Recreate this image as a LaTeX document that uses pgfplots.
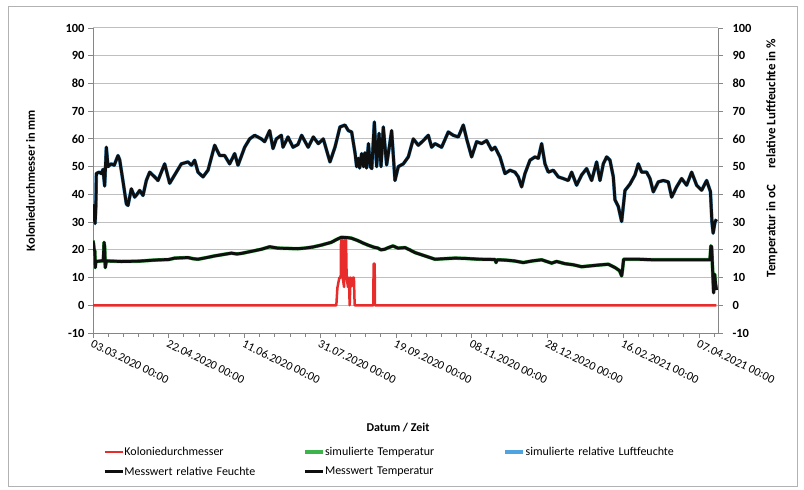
\documentclass[border=0pt]{standalone}
\usepackage{pgfplots}
\pgfplotsset{compat=1.18}
\usepackage{pgfplotstable}
\usepackage{fontspec}
\setmainfont{Carlito}

\definecolor{gridc}{RGB}{191,191,191}
\definecolor{axc}{RGB}{134,134,134}
\definecolor{redc}{RGB}{232,44,44}
\definecolor{greenc}{RGB}{60,180,75}
\definecolor{bluec}{RGB}{79,163,222}
\definecolor{blk}{RGB}{15,15,15}

% day offset from 03.03.2020, value
\pgfplotstableread{
d v
0 0
160.6 0
161.3 6.3
162.6 10
163.5 10
163.7 23.7
164.4 23.7
164.8 10
165.7 6.6
166.3 23.7
167 23.7
167.4 10
168.3 6.6
168.9 10
169.4 0
170 10
170.9 7
171.6 10
172.2 10
172.7 0
185 0
185.2 15
185.9 15
186.1 0
411.5 0
}\kolonie

\pgfplotstableread{
d v
0 23.3
0.4 22
0.7 20.2
1.2 19.5
1.5 13.6
1.9 16
2.2 15.8
5.5 16
6.8 16
7.3 22.7
7.7 21
8.1 13.6
8.8 16
18.7 15.8
30 15.9
40.7 16.3
50 16.5
53.9 17
62.7 17.2
66 16.8
69.3 16.6
75 17.2
80.3 17.8
91.3 18.8
95 18.5
97.9 18.7
105 19.5
111.1 20.2
116.6 21.1
122 20.6
128.7 20.5
135 20.4
139.7 20.6
145 21
150.7 21.7
157.3 22.7
161 23.8
163.9 24.5
168 24.4
170.5 24.2
174.9 23.3
178 22.5
181.5 21.7
185 21
188.1 20.6
190 20
192.5 20.2
195 20.8
198 21.4
201.3 20.6
205.9 20.8
209 20
212.5 19
219.1 17.8
225.7 16.6
232 16.8
239 17
245.5 16.9
255 16.6
265.4 16.5
266 15.4
266.7 16.4
271.9 16.3
278 16
284 15.4
290 16
296.1 16.4
302.7 15.2
306 15.8
311.5 15
317 14.6
322.5 13.9
328 14.2
333.5 14.5
340.1 14.8
344.5 13.6
347.5 12.5
348.9 10.6
349.5 13
350.2 16.6
351.1 16.6
359.9 16.6
370 16.4
381.9 16.4
395 16.4
407.2 16.4
407.8 21.4
408.3 21
408.8 14.8
409.6 4.5
410.3 11.2
410.9 7.6
411.5 5.5
}\temp

\pgfplotstableread{
d v
0 34
0.4 36
0.9 31
1.4 29.5
1.9 36
2.2 47.5
4 48
5.5 47.5
6.6 49
7.7 43
8.8 57
9.9 50
12 51
14 50.5
16.5 54
17.6 52.5
20 44
22 36.6
23.1 36
25.3 42
27.5 39
29 40
30.8 41.4
33 39.6
35.2 45
37.4 48
40.7 46.3
42.9 45
47.3 51
50.6 44
53.9 47
58.3 51
62.7 51.7
65 50.5
67.1 52.3
69.3 48
72.6 46.3
75.9 48.7
80.3 57.7
83.6 54
86.9 54
90.2 51
93.5 54.7
95.7 50.5
100.1 57
103.4 60
106.7 61.3
111.1 60
113.3 59
116.6 63
118.8 56.5
121 60
124.3 61.3
125.4 57
128.7 60.7
132 57
135.3 58
137.7 61.3
142 57
145.4 60.7
148.7 58.3
152 60
156.4 51.7
159.7 57
163 64.3
166.3 65
168.5 63
170.7 62.5
173 54.7
174 50
175.1 53
176 49.5
177.3 54.7
178.5 50
179.5 55
180.5 49.5
181.8 58.3
183 50
184 49.3
185.7 66.1
187.2 50
188.8 62
190.1 50
191.6 64.3
193.8 50.6
197.1 63
199.3 45
201.5 50
204.8 51
208.1 53.5
211.4 60
214.7 57.7
218 59.4
221.3 61.3
223.5 57
225.7 58.3
230.1 57
234.5 62.5
237.8 61.3
241.1 60.7
244.4 65
246.6 60
249.9 53.5
253.2 59
256.5 58.3
259.8 59.4
263.1 56
265.3 57
268.6 53.5
271.9 47.5
275.2 48.7
278.5 48
280.7 46.3
282.9 42.7
285.1 47.5
288.4 52.3
291.7 53.5
293.9 53
296.1 58.3
298.3 51
300.5 48
303.8 48.7
307.1 46.3
310.4 45.7
313.7 45
315.9 48
319.2 43.3
322.5 47
325.8 49.3
329.1 45
332.4 51.7
334.6 45
336.8 51
339 53.5
341.2 52.3
343.4 46.3
344.5 38
346.7 35.6
348.9 30.2
351.1 41.4
354.4 43.7
357.7 47
359.9 51
362.1 48
365.4 48
367.6 45.7
369.8 40.9
373.1 44.5
376.4 45
379.7 44.5
381.9 39
385.2 42.7
388.5 45.7
391.8 43.3
395.1 48
398.4 43.3
401.7 41.5
405 45
407.5 41
408.5 30
409.3 26
410.5 30
411.5 31
}\humid

\begin{document}
\begin{tikzpicture}
\useasboundingbox (0bp,0bp) rectangle (804bp,490bp);
\draw[gray!60, line width=0.8bp] (8bp,4bp) rectangle (797bp,484bp);

\begin{axis}[
  at={(93bp,157bp)}, anchor=south west,
  width=625bp, height=305bp, scale only axis,
  xmin=0, xmax=412.5, ymin=-10, ymax=100,
  axis x line*=bottom, axis y line*=left,
  axis line style={axc, line width=0.9bp, -},
  ymajorgrids, grid style={gridc, line width=1bp},
  ytick={-10,0,...,100},
  xtick={0,50,...,400},
  minor xtick={10,20,...,410},
  xticklabels={03.03.2020 00:00,22.04.2020 00:00,11.06.2020 00:00,31.07.2020 00:00,19.09.2020 00:00,08.11.2020 00:00,28.12.2020 00:00,16.02.2021 00:00,07.04.2021 00:00},
  tick align=outside,
  major tick length=5bp, minor tick length=4bp,
  tick style={axc, line width=0.9bp},
  /pgf/number format/assume math mode=true,
  yticklabel style={font=\bfseries\fontsize{12.5}{14}\selectfont, text=black},
  xticklabel style={font=\fontsize{12}{14}\selectfont, text=black, rotate=-26, anchor=north west, inner sep=1bp},
  xlabel={Datum / Zeit},
  xlabel style={at={(axis description cs:0.488,-0.311)}, anchor=center, font=\bfseries\fontsize{12}{14}\selectfont},
  ylabel={Koloniedurchmesser in mm},
  ylabel style={at={(axis description cs:-0.1,0.5)}, anchor=center, font=\bfseries\fontsize{12.5}{14}\selectfont},
  legend columns=3,
  legend cell align=left,
  legend image code/.code={\draw[#1] (0bp,0bp) -- (18bp,0bp);},
  legend style={at={(axis description cs:0.011,-0.365)}, anchor=north west, draw=none, fill=none,
    font=\fontsize{12}{14}\selectfont, row sep=9bp, column sep=0bp,
    nodes={text width=178bp, align=left, inner sep=0.5bp}},
]
\addplot[redc, line width=2.5bp, line join=round] table[x=d, y=v] {\kolonie};
\addlegendentry{Koloniedurchmesser}
\addplot[greenc, line width=3.6bp, line join=round] table[x=d, y=v] {\temp};
\addlegendentry{simulierte Temperatur}
\addplot[bluec, line width=3.6bp, line join=round] table[x=d, y=v] {\humid};
\addlegendentry{simulierte relative Luftfeuchte}
\addplot[blk, line width=2.9bp, line join=round] table[x=d, y=v] {\humid};
\addlegendentry{Messwert relative Feuchte}
\addplot[blk, line width=2.9bp, line join=round] table[x=d, y=v] {\temp};
\addlegendentry{Messwert Temperatur}
\end{axis}

\begin{axis}[
  at={(93bp,157bp)}, anchor=south west,
  width=625bp, height=305bp, scale only axis,
  xmin=0, xmax=412.5, ymin=-10, ymax=100,
  axis y line*=right, axis x line=none,
  axis line style={axc, line width=0.9bp, -},
  ytick={-10,0,...,100},
  tick align=outside, major tick length=5bp,
  tick style={axc, line width=0.9bp},
  /pgf/number format/assume math mode=true,
  yticklabel style={font=\bfseries\fontsize{12.5}{14}\selectfont, text=black, xshift=6bp},
  ylabel={Temperatur in oC\hspace{16bp}relative Luftfeuchte in \%},
  every axis y label/.style={at={(axis description cs:1.086,0.574)}, anchor=center, rotate=90, font=\bfseries\fontsize{13}{15}\selectfont},
]
\addplot[draw=none] coordinates {(0,0)};
\end{axis}
\end{tikzpicture}
\end{document}
